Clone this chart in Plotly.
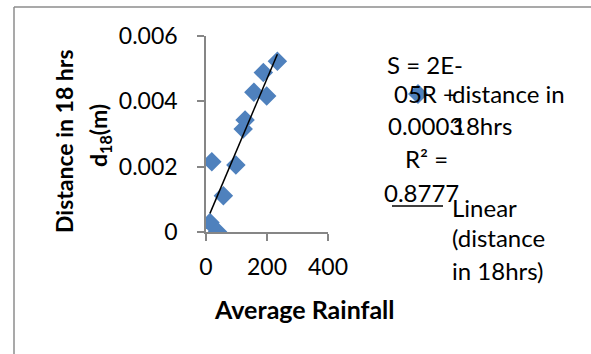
import numpy as np
import plotly.graph_objects as go

# ---- data ----
rainfall = [13, 38, 19, 57, 98, 122, 128, 157, 199, 188, 234]
distance = [0.00029, 0.00001, 0.00215, 0.00111, 0.00205, 0.00315,
            0.00343, 0.00428, 0.00416, 0.00488, 0.00523]
x_ticks = [0, 200, 400]
y_ticks = [0, 0.002, 0.004, 0.006]
y_tick_text = ["0", "0.002", "0.004", "0.006"]

W, H = 591, 354
L, R_, T, B = 206, 263, 36, 122
PW, PH = W - L - R_, H - T - B

def px(x):
    return (x - L) / PW

def py(y):
    return (H - B - y) / PH

FONT = "Lato"
BLUE = "#4F81BD"
GRAY = "#868686"
FS = 23

slope, intercept = np.polyfit(rainfall, distance, 1)
tx = np.array([min(rainfall), max(rainfall)])
ty = slope * tx + intercept

fig = go.Figure()
fig.add_trace(go.Scatter(x=rainfall, y=distance, mode="markers",
                         marker=dict(symbol="diamond", size=15, color=BLUE),
                         name="distance in 18hrs", showlegend=False))
fig.add_trace(go.Scatter(x=tx, y=ty, mode="lines",
                         line=dict(color="black", width=1.5),
                         name="Linear (distance in 18hrs)", showlegend=False))

fig.update_layout(
    width=W, height=H,
    margin=dict(l=L, r=R_, t=T, b=B),
    paper_bgcolor="white", plot_bgcolor="white",
    font=dict(family=FONT, size=FS, color="black"),
    showlegend=False,
    xaxis=dict(range=[0, 400], tickvals=x_ticks, showgrid=False, zeroline=False,
               showline=True, linecolor=GRAY, linewidth=1.5,
               ticks="outside", ticklen=7, tickcolor=GRAY, tickwidth=1.5,
               ticklabelstandoff=7),
    yaxis=dict(range=[0, 0.006], tickvals=y_ticks, ticktext=y_tick_text,
               showgrid=False, zeroline=False,
               showline=True, linecolor=GRAY, linewidth=1.5,
               ticks="outside", ticklen=7, tickcolor=GRAY, tickwidth=1.5,
               ticklabelstandoff=15),
)

ann = []
def text(x, y, s, xanchor="center", bold=False, angle=0, size=FS):
    ann.append(dict(x=px(x), y=py(y), xref="paper", yref="paper", text=s,
                    showarrow=False, xanchor=xanchor, yanchor="middle",
                    textangle=angle,
                    font=dict(family=FONT, size=size, color="black",
                              weight="bold" if bold else "normal")))

# axis titles
text(304, 309, "Average Rainfall", bold=True, size=25)
text(64, 141, "Distance in 18 hrs", bold=True, angle=-90)
text(99, 136, "d<sub>18</sub>(m)", bold=True, angle=-90)

# trendline equation label
LS = 24
text(425, 64, "S = 2E-", size=LS)
text(425, 93, "05R +", size=LS)
text(425, 126, "0.0003", size=LS)
text(426, 158, "R² =", size=LS)
text(421, 192, "0.8777", size=LS)

# legend texts
text(450, 93, "distance in", xanchor="left", size=LS)
text(450, 126, "18hrs", xanchor="left", size=LS)
text(450, 207, "Linear", xanchor="left", size=LS)
text(450, 238, "(distance", xanchor="left", size=LS)
text(450, 270, "in 18hrs)", xanchor="left", size=LS)
fig.update_layout(annotations=ann)

# legend diamond marker sample (half-width 10 px)
mx, my, hr = 418, 94, 10
diamond = (f"M {px(mx - hr)},{py(my)} L {px(mx)},{py(my - hr)} "
           f"L {px(mx + hr)},{py(my)} L {px(mx)},{py(my + hr)} Z")

shapes = [
    # chart border (left and top)
    dict(type="line", xref="paper", yref="paper", x0=px(14), x1=px(14),
         y0=py(7), y1=py(360), line=dict(color="#8C8C8C", width=1.5)),
    dict(type="line", xref="paper", yref="paper", x0=px(14), x1=px(600),
         y0=py(7), y1=py(7), line=dict(color="#8C8C8C", width=1.5)),
    # legend line sample
    dict(type="line", xref="paper", yref="paper", x0=px(392), x1=px(443),
         y0=py(206), y1=py(206), line=dict(color="black", width=1.5)),
    dict(type="path", xref="paper", yref="paper", path=diamond,
         fillcolor=BLUE, line=dict(width=0)),
]
fig.update_layout(shapes=shapes)

fig.write_html("out.html")
